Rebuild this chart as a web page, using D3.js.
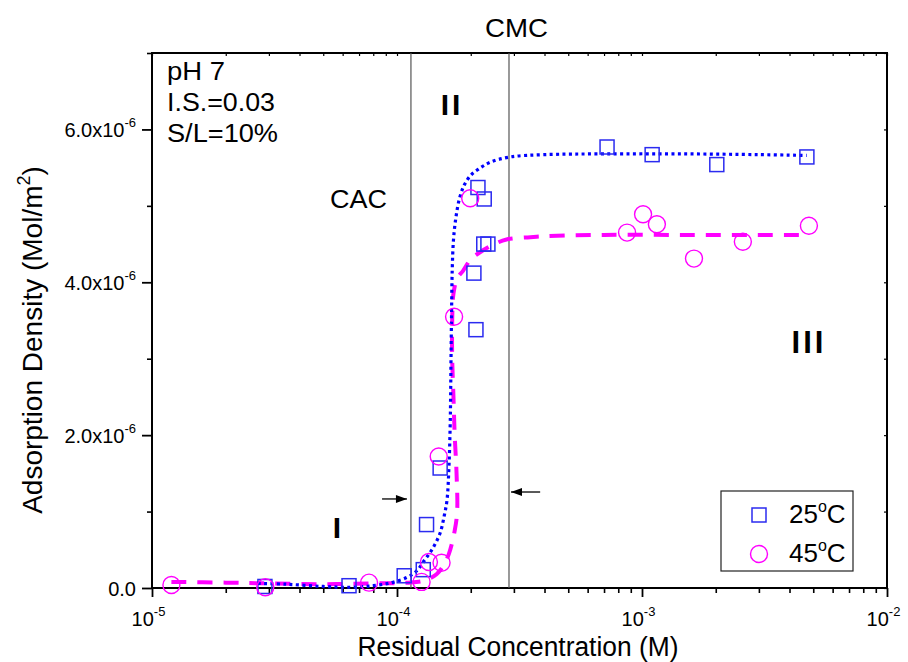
<!DOCTYPE html>
<html>
<head>
<meta charset="utf-8">
<script src="https://cdn.jsdelivr.net/npm/d3@7"></script>
<style>
  html, body { margin: 0; padding: 0; background: #fff; }
  svg { display: block; font-family: "Liberation Sans", Arial, sans-serif; }
</style>
</head>
<body>
<svg id="chart" width="908" height="662"></svg>
<script>
// ---------------- DATA ----------------
// 25 °C measured points (Residual concentration M, adsorption density Mol/m²)
const conc25 = [2.89e-5, 6.37e-5, 1.07e-4, 1.28e-4, 1.32e-4, 1.50e-4, 2.10e-4, 2.06e-4, 2.26e-4, 2.35e-4, 2.14e-4, 2.27e-4, 7.2e-4, 1.10e-3, 2.02e-3, 4.71e-3];
const ads25  = [0.02e-6, 0.03e-6, 0.16e-6, 0.24e-6, 0.83e-6, 1.57e-6, 3.38e-6, 4.12e-6, 4.50e-6, 4.50e-6, 5.24e-6, 5.09e-6, 5.77e-6, 5.67e-6, 5.54e-6, 5.64e-6];
// 45 °C measured points
const conc45 = [1.2e-5, 2.9e-5, 7.69e-5, 1.26e-4, 1.35e-4, 1.52e-4, 1.48e-4, 1.71e-4, 1.99e-4, 8.69e-4, 1.01e-3, 1.15e-3, 1.63e-3, 2.58e-3, 4.8e-3];
const ads45  = [0.04e-6, 0.01e-6, 0.07e-6, 0.08e-6, 0.34e-6, 0.33e-6, 1.72e-6, 3.55e-6, 5.10e-6, 4.65e-6, 4.89e-6, 4.76e-6, 4.31e-6, 4.53e-6, 4.74e-6];
// fitted curves
const fitConc25 = [2.7e-5, 3.5e-5, 5e-5, 6.5e-5, 8e-5, 9.5e-5, 1.1e-4, 1.2e-4, 1.3e-4, 1.4e-4, 1.5e-4, 1.56e-4, 1.6e-4, 1.63e-4, 1.65e-4, 1.66e-4, 1.67e-4, 1.68e-4, 1.7e-4, 1.74e-4, 1.8e-4, 1.88e-4, 2.0e-4, 2.15e-4, 2.4e-4, 2.9e-4, 4e-4, 7e-4, 1.5e-3, 3e-3, 4.7e-3];
const fitAds25  = [0.06e-6, 0.05e-6, 0.02e-6, 0.01e-6, 0.03e-6, 0.07e-6, 0.14e-6, 0.22e-6, 0.37e-6, 0.52e-6, 0.72e-6, 0.95e-6, 1.15e-6, 1.6e-6, 2.2e-6, 2.9e-6, 3.6e-6, 4.15e-6, 4.55e-6, 4.85e-6, 5.1e-6, 5.27e-6, 5.4e-6, 5.48e-6, 5.57e-6, 5.64e-6, 5.67e-6, 5.68e-6, 5.68e-6, 5.67e-6, 5.66e-6];
const fitConc45 = [1.2e-5, 2e-5, 3e-5, 5e-5, 8e-5, 1.1e-4, 1.3e-4, 1.45e-4, 1.55e-4, 1.63e-4, 1.72e-4, 1.76e-4, 1.75e-4, 1.72e-4, 1.7e-4, 1.68e-4, 1.68e-4, 1.7e-4, 1.76e-4, 1.86e-4, 2.0e-4, 2.2e-4, 2.5e-4, 2.8e-4, 3.5e-4, 4.5e-4, 7e-4, 1.5e-3, 3e-3, 4.8e-3];
const fitAds45  = [0.08e-6, 0.07e-6, 0.06e-6, 0.05e-6, 0.06e-6, 0.07e-6, 0.1e-6, 0.18e-6, 0.3e-6, 0.45e-6, 0.75e-6, 1.0e-6, 1.5e-6, 2.0e-6, 2.5e-6, 3.0e-6, 3.5e-6, 3.85e-6, 4.05e-6, 4.15e-6, 4.3e-6, 4.4e-6, 4.5e-6, 4.56e-6, 4.59e-6, 4.61e-6, 4.62e-6, 4.62e-6, 4.62e-6, 4.62e-6];
// reference concentrations
const cacConc = 1.14e-4;
const cmcConc = 2.865e-4;
// tick values / labels
const xMajorTicks = [1e-5, 1e-4, 1e-3, 1e-2];
const xMajorExp   = ["-5", "-4", "-3", "-2"];
const yMajorTicks = [0, 2e-6, 4e-6, 6e-6];
const yMajorMant  = ["0.0", "2.0x10", "4.0x10", "6.0x10"];
const yMajorExp   = ["", "-6", "-6", "-6"];
const yMinorTicks = [1e-6, 3e-6, 5e-6, 7e-6];
const seriesNames = ["25", "45"];

// ---------------- LAYOUT ----------------
const svg = d3.select("#chart");
const L = 152, R = 887, T = 53, B = 588;
const x = d3.scaleLog().domain([1e-5, 1e-2]).range([L, R]);
const y = d3.scaleLinear().domain([0, 7e-6]).range([B, T]);

const blue = "#0000ff", blueMk = "#2b2bf0", mag = "#ff00ff";

// minor x ticks
const xMinor = [];
[1e-5, 1e-4, 1e-3].forEach(d => { for (let k = 2; k <= 9; k++) xMinor.push(d * k); });

// ---- axes ----
// bottom
svg.append("g").attr("transform", `translate(0,${B})`)
  .call(d3.axisBottom(x).tickValues(xMinor).tickSize(5).tickFormat(""))
  .call(g => g.select(".domain").remove())
  .call(g => g.selectAll("line").attr("stroke", "#000").attr("stroke-width", 1.6));
const xb = svg.append("g").attr("transform", `translate(0,${B})`)
  .call(d3.axisBottom(x).tickValues(xMajorTicks).tickSize(9).tickFormat(""))
  .call(g => g.select(".domain").remove())
  .call(g => g.selectAll("line").attr("stroke", "#000").attr("stroke-width", 1.8));
xb.selectAll(".tick").append("text")
  .attr("y", 38).attr("x", -4).attr("text-anchor", "middle").attr("fill", "#000")
  .style("font-size", "20px")
  .each(function (d, i) {
    const t = d3.select(this);
    t.append("tspan").text("10");
    t.append("tspan").attr("dy", -10).style("font-size", "13px").text(xMajorExp[i]);
  });
// top minor ticks (inward)
svg.append("g").attr("transform", `translate(0,${T})`)
  .call(d3.axisTop(x).tickValues(xMinor.concat(xMajorTicks)).tickSize(-3).tickFormat(""))
  .call(g => g.select(".domain").remove())
  .call(g => g.selectAll("line").attr("stroke", "#000").attr("stroke-width", 1.2));

// left
svg.append("g").attr("transform", `translate(${L},0)`)
  .call(d3.axisLeft(y).tickValues(yMinorTicks).tickSize(5).tickFormat(""))
  .call(g => g.select(".domain").remove())
  .call(g => g.selectAll("line").attr("stroke", "#000").attr("stroke-width", 1.6));
const yl = svg.append("g").attr("transform", `translate(${L},0)`)
  .call(d3.axisLeft(y).tickValues(yMajorTicks).tickSize(10).tickFormat(""))
  .call(g => g.select(".domain").remove())
  .call(g => g.selectAll("line").attr("stroke", "#000").attr("stroke-width", 1.8));
yl.selectAll(".tick").append("text")
  .attr("x", -16).attr("dy", 7).attr("text-anchor", "end").attr("fill", "#000")
  .style("font-size", "20px")
  .each(function (d, i) {
    const t = d3.select(this);
    t.append("tspan").text(yMajorMant[i]);
    if (yMajorExp[i]) t.append("tspan").attr("dy", -10).style("font-size", "13px").text(yMajorExp[i]);
  });
// right ticks (inward)
svg.append("g").attr("transform", `translate(${R},0)`)
  .call(d3.axisRight(y).tickValues(yMajorTicks.concat(yMinorTicks)).tickSize(-3).tickFormat(""))
  .call(g => g.select(".domain").remove())
  .call(g => g.selectAll("line").attr("stroke", "#000").attr("stroke-width", 1.2));

// frame
svg.append("rect").attr("x", L).attr("y", T).attr("width", R - L).attr("height", B - T)
  .attr("fill", "none").attr("stroke", "#000").attr("stroke-width", 2);

// CAC / CMC vertical lines
[cacConc, cmcConc].forEach(c => {
  svg.append("line").attr("x1", x(c)).attr("x2", x(c)).attr("y1", T).attr("y2", B)
    .attr("stroke", "#555").attr("stroke-width", 1.2);
});

// ---- fitted lines ----
const line = d3.line().x(d => x(d[0])).y(d => y(d[1])).curve(d3.curveCatmullRom.alpha(0.5));
svg.append("path").datum(fitConc45.map((c, i) => [c, fitAds45[i]]))
  .attr("d", line).attr("fill", "none").attr("stroke", mag).attr("stroke-width", 4)
  .attr("stroke-dasharray", "15,11");
svg.append("path").datum(fitConc25.map((c, i) => [c, fitAds25[i]]))
  .attr("d", line).attr("fill", "none").attr("stroke", blue).attr("stroke-width", 3.2)
  .attr("stroke-dasharray", "3,3.4");

// ---- markers ----
svg.append("g").selectAll("rect").data(conc25.map((c, i) => [c, ads25[i]])).join("rect")
  .attr("x", d => x(d[0]) - 7).attr("y", d => y(d[1]) - 7).attr("width", 14).attr("height", 14)
  .attr("fill", "none").attr("stroke", blueMk).attr("stroke-width", 1.5);
svg.append("g").selectAll("circle").data(conc45.map((c, i) => [c, ads45[i]])).join("circle")
  .attr("cx", d => x(d[0])).attr("cy", d => y(d[1])).attr("r", 8.5)
  .attr("fill", "none").attr("stroke", mag).attr("stroke-width", 1.4);

// ---- arrows ----
function arrow(x1, y1, x2, y2) {
  svg.append("line").attr("x1", x1).attr("y1", y1).attr("x2", x2).attr("y2", y2)
    .attr("stroke", "#000").attr("stroke-width", 1.3);
  const dir = Math.sign(x2 - x1);
  svg.append("path")
    .attr("d", `M${x2},${y2} L${x2 - dir * 11},${y2 - 4} L${x2 - dir * 11},${y2 + 4} Z`)
    .attr("fill", "#000");
}
arrow(x(8.69e-5), y(1.165e-6), x(cacConc) - 4, y(1.165e-6));
arrow(x(3.84e-4), y(1.256e-6), x(cmcConc) + 2, y(1.256e-6));

// ---- annotation texts ----
function txt(str, px, py, size, anchor, opts = {}) {
  const t = svg.append("text").attr("x", px).attr("y", py).attr("text-anchor", anchor || "start")
    .attr("fill", "#000").style("font-size", size + "px").text(str);
  if (opts.len) t.attr("textLength", opts.len).attr("lengthAdjust", "spacingAndGlyphs");
  if (opts.weight) t.style("font-weight", opts.weight);
  if (opts.ls) t.style("letter-spacing", opts.ls);
  return t;
}
txt("pH 7", 167, 80, 26, "start", { len: 58 });
txt("I.S.=0.03", 167, 111, 26, "start", { len: 108 });
txt("S/L=10%", 167, 142, 26, "start", { len: 111 });
txt("CAC", 330, 208, 26, "start", { len: 57 });
txt("CMC", 485, 37, 26, "start", { len: 63 });
txt("I", 337, 538, 30, "middle", { weight: "bold" });
txt("II", 452, 115, 30, "middle", { weight: "bold", ls: "3px" });
txt("III", 809, 353, 31, "middle", { weight: "bold", ls: "3px" });

// axis titles
txt("Residual Concentration (M)", 518, 656, 27, "middle", { len: 321 });
const yt = svg.append("text").attr("transform", "translate(42,340) rotate(-90)")
  .attr("text-anchor", "middle").attr("fill", "#000").style("font-size", "28px");
yt.append("tspan").text("Adsorption Density (Mol/m");
yt.append("tspan").attr("dy", -12).style("font-size", "18px").text("2");
yt.append("tspan").attr("dy", 12).text(")");

// ---- legend ----
const lg = svg.append("g");
lg.append("rect").attr("x", 721).attr("y", 491).attr("width", 132).attr("height", 80)
  .attr("fill", "#fff").attr("stroke", "#222").attr("stroke-width", 1.2);
lg.append("rect").attr("x", 752).attr("y", 508).attr("width", 14).attr("height", 14)
  .attr("fill", "none").attr("stroke", blueMk).attr("stroke-width", 1.5);
lg.append("circle").attr("cx", 759).attr("cy", 554).attr("r", 8.5)
  .attr("fill", "none").attr("stroke", mag).attr("stroke-width", 1.4);
seriesNames.forEach((n, i) => {
  const t = lg.append("text").attr("x", 789).attr("y", 523 + i * 39).attr("fill", "#000")
    .style("font-size", "26px");
  t.append("tspan").text(n);
  t.append("tspan").attr("dy", -11).style("font-size", "16px").text("o");
  t.append("tspan").attr("dy", 11).text("C");
});
</script>
</body>
</html>
